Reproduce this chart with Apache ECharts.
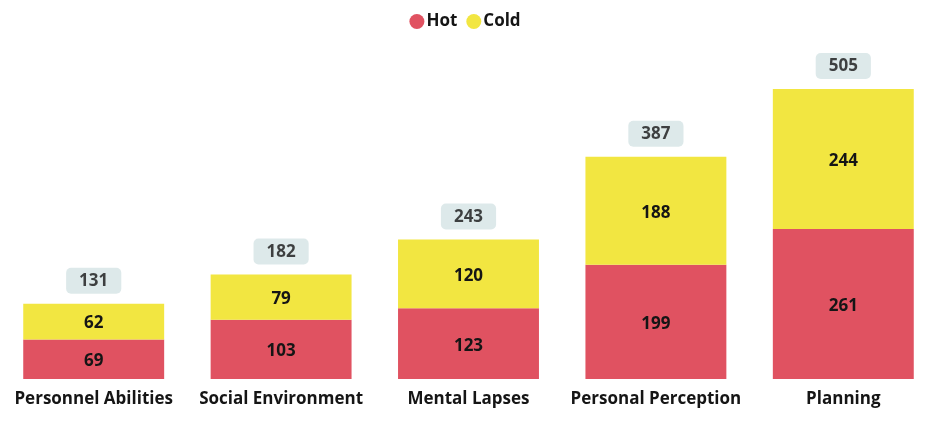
<!DOCTYPE html>
<html>
<head>
<meta charset="utf-8">
<script src="https://cdn.jsdelivr.net/npm/echarts@6/dist/echarts.min.js"></script>
<style>
  html, body { margin: 0; padding: 0; background: #ffffff; }
  #chart { width: 930px; height: 425px; }
</style>
</head>
<body>
<div id="chart"></div>
<script>
// Factors, split by hot / cold conditions
const categories = ['Personnel Abilities', 'Social Environment', 'Mental Lapses', 'Personal Perception', 'Planning'];
const hotValues = [69, 103, 123, 199, 261];
const coldValues = [62, 79, 120, 188, 244];
const totals = hotValues.map((v, i) => v + coldValues[i]);

const FONT = "'Open Sans', 'Noto Sans', sans-serif";
const RED = '#E05261';
const YELLOW = '#F2E641';

const chart = echarts.init(document.getElementById('chart'));

const innerLabel = {
  show: true,
  position: 'inside',
  offset: [0, 2],
  color: '#151515',
  fontFamily: FONT,
  fontWeight: 'bold',
  fontSize: 17
};

chart.setOption({
  animation: false,
  legend: {
    top: 8,
    left: 'center',
    icon: 'circle',
    itemWidth: 15,
    itemHeight: 15,
    itemGap: 9,
    textStyle: { fontFamily: FONT, fontWeight: 'bold', fontSize: 17, color: '#151515', padding: [0, 0, 0, -3] },
    data: ['Hot', 'Cold']
  },
  grid: { left: 0, right: -7, top: 89, bottom: 46, containLabel: false, outerBoundsMode: 'none' },
  xAxis: {
    type: 'category',
    data: categories,
    axisLine: { show: false },
    axisTick: { show: false },
    axisLabel: { interval: 0, margin: 12, color: '#151515', fontFamily: FONT, fontWeight: 'bold', fontSize: 17 }
  },
  yAxis: {
    type: 'value',
    min: 0,
    max: 505,
    show: false,
    splitLine: { show: false }
  },
  series: [
    {
      name: 'Hot',
      type: 'bar',
      stack: 'total',
      barCategoryGap: '24.8%',
      itemStyle: { color: RED },
      label: innerLabel,
      data: hotValues
    },
    {
      name: 'Cold',
      type: 'bar',
      stack: 'total',
      barCategoryGap: '24.8%',
      itemStyle: { color: YELLOW },
      label: innerLabel,
      data: coldValues
    },
    {
      name: 'Total',
      type: 'scatter',
      symbolSize: 0,
      silent: true,
      label: {
        show: true,
        position: 'top',
        distance: 10,
        formatter: p => String(p.value),
        color: '#151515',
        fontFamily: FONT,
        fontWeight: 'bold',
        fontSize: 17,
        backgroundColor: '#D5E3E5',
        borderRadius: 5,
        padding: [5, 13, 4, 13]
      },
      data: totals
    }
  ]
});
</script>
</body>
</html>
